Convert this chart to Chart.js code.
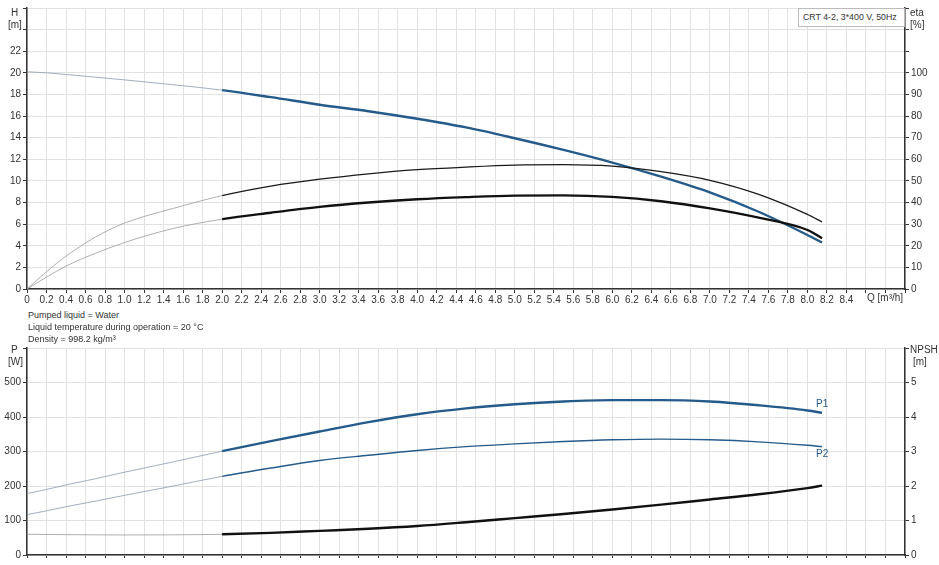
<!DOCTYPE html>
<html>
<head>
<meta charset="utf-8">
<script src="https://cdn.jsdelivr.net/npm/chart.js@4.4.1/dist/chart.umd.min.js"></script>
<style>
  body { margin: 0; background: #fff; font-family: "Liberation Sans", Arial, sans-serif; color: #333; }
  #wrap { position: relative; width: 939px; height: 565px; overflow: hidden; }
  canvas { position: absolute; left: 0; }
  .lbl { position: absolute; font-size: 10px; line-height: 12px; color: #333; white-space: nowrap; }
  .info { position: absolute; left: 28px; font-size: 9px; line-height: 12px; color: #333; white-space: nowrap; }
  #box { position: absolute; left: 798px; top: 8px; width: 107px; height: 19px; border: 1px solid #bbb;
         background: #fff; font-size: 8.8px; line-height: 17px; padding-left: 4px; box-sizing: border-box;
         color: #333; white-space: nowrap; }
</style>
</head>
<body>
<div id="wrap">
  <canvas id="top" width="939" height="305" style="top:0"></canvas>
  <canvas id="bottom" width="939" height="225" style="top:340px"></canvas>

  <div class="lbl" style="left:11px;top:7px">H</div>
  <div class="lbl" style="left:8px;top:19px">[m]</div>
  <div class="lbl" style="left:910px;top:7px">eta</div>
  <div class="lbl" style="left:910px;top:19px">[%]</div>
  <div class="lbl" style="left:867px;top:292px">Q [m³/h]</div>
  <div id="box">CRT 4-2, 3*400 V, 50Hz</div>

  <div class="info" style="top:309px">Pumped liquid = Water</div>
  <div class="info" style="top:321px">Liquid temperature during operation = 20 °C</div>
  <div class="info" style="top:333px">Density = 998.2 kg/m³</div>

  <div class="lbl" style="left:11px;top:344px">P</div>
  <div class="lbl" style="left:8px;top:356px">[W]</div>
  <div class="lbl" style="left:910px;top:344px">NPSH</div>
  <div class="lbl" style="left:913px;top:356px">[m]</div>
</div>
<script>
// flow Q [m3/h]
const flow = [0, 0.2, 0.4, 0.7, 1.0, 1.5, 2.0, 2.5, 3.0, 3.5, 4.0, 4.5, 5.0, 5.5, 6.0, 6.5, 7.0, 7.5, 8.0, 8.15];
// head H [m]
const head = [20.1, 20.0, 19.85, 19.6, 19.35, 18.9, 18.4, 17.75, 17.05, 16.45, 15.75, 14.95, 13.95, 12.87, 11.7, 10.4, 8.95, 7.15, 5.0, 4.3];
// efficiencies [%]
const etaPump = [0, 8, 15.2, 24, 30.5, 37.3, 43.2, 47.6, 50.8, 53.3, 55.2, 56.4, 57.3, 57.5, 56.8, 54.3, 50.3, 43.8, 34.5, 31];
const etaTotal = [0, 5.5, 10.6, 16.5, 21.5, 28, 32.3, 35.3, 38.0, 40.0, 41.5, 42.5, 43.2, 43.3, 42.6, 40.6, 37.3, 33.0, 27.3, 23.5];
// power [W]
const powerP1 = [178, 190, 203, 221, 240, 270, 301, 330, 358, 385, 408, 425, 437, 445, 449, 449, 445, 434, 419, 412];
const powerP2 = [117, 128, 140, 156, 173, 200, 228, 252, 274, 289, 303, 314, 322, 329, 334, 336, 334, 328, 318, 314];
// NPSH [m]
const npsh = [0.60, 0.595, 0.59, 0.585, 0.58, 0.585, 0.60, 0.64, 0.70, 0.76, 0.84, 0.95, 1.07, 1.19, 1.32, 1.46, 1.61, 1.76, 1.94, 2.01];

const hTicks = [0, 2, 4, 6, 8, 10, 12, 14, 16, 18, 20, 22];
const etaTicks = [0, 10, 20, 30, 40, 50, 60, 70, 80, 90, 100];
const pTicks = [0, 100, 200, 300, 400, 500];
const npshTicks = [0, 1, 2, 3, 4, 5];

const FONT = { family: '"Liberation Sans", Arial, sans-serif', size: 10 };
const GRID = '#e2e2e2';
const AXIS = '#333';
const BLUE = '#255b8b';
const opStart = 2.0; // start of the drawn operating range

function pts(ys) { return flow.map((q, i) => ({ x: q, y: ys[i] })); }

function curve(ys, axis, color, width, thinColor) {
  return {
    data: pts(ys), yAxisID: axis, borderColor: color, borderWidth: width,
    pointRadius: 0, fill: false, cubicInterpolationMode: 'monotone',
    segment: {
      borderWidth: c => c.p1.parsed.x <= opStart + 1e-6 ? 0.8 : width,
      borderColor: c => c.p1.parsed.x <= opStart + 1e-6 ? thinColor : color
    }
  };
}

function xAxis(showLabels, h) {
  return {
    type: 'linear', min: 0, max: 9,
    ticks: {
      stepSize: 0.2, autoSkip: false, maxRotation: 0, font: FONT, color: AXIS, padding: 1,
      callback: v => (!showLabels || v > 8.41) ? '' : (Math.abs(v) < 1e-9 ? '0' : v.toFixed(1))
    },
    grid: { color: GRID, tickColor: AXIS, tickLength: showLabels ? 4 : 3, drawOnChartArea: true },
    border: { color: AXIS, width: 1.5 },
    afterFit: s => { s.height = h; }
  };
}

function yAxis(pos, max, step, shown, grid, w) {
  return {
    type: 'linear', position: pos, min: 0, max: max,
    ticks: {
      stepSize: step, autoSkip: false, font: FONT, color: AXIS, padding: 2,
      callback: v => shown.includes(Math.round(v * 1000) / 1000) ? String(v) : ''
    },
    grid: { display: true, drawOnChartArea: grid, color: GRID, tickColor: AXIS, tickLength: 4 },
    border: { color: AXIS, width: 1.5 },
    afterFit: s => { s.width = w; }
  };
}

const endLabels = {
  id: 'endLabels',
  afterDatasetsDraw(chart, args, opts) {
    if (!opts.items) return;
    const ctx = chart.ctx;
    ctx.save();
    ctx.font = '10px "Liberation Sans", Arial, sans-serif';
    ctx.fillStyle = BLUE;
    opts.items.forEach(it => {
      const meta = chart.getDatasetMeta(it.ds);
      const p = meta.data[meta.data.length - 1];
      ctx.fillText(it.text, p.x - 6, p.y + it.dy);
    });
    ctx.restore();
  }
};

Chart.defaults.animation = false;
Chart.defaults.responsive = false;
Chart.defaults.font.family = FONT.family;

new Chart(document.getElementById('top'), {
  type: 'line',
  data: {
    datasets: [
      curve(etaPump, 'eta', '#1a1a1a', 1.3, '#9a9a9a'),
      curve(etaTotal, 'eta', '#111', 2.4, '#9a9a9a'),
      curve(head, 'h', BLUE, 2.4, '#8a9bb0')
    ]
  },
  options: {
    layout: { padding: { top: 8, left: 0, right: 0, bottom: 0 } },
    plugins: { legend: { display: false }, tooltip: { enabled: false } },
    scales: {
      x: xAxis(true, 16),
      h: yAxis('left', 26, 2, hTicks, true, 27),
      eta: yAxis('right', 130, 10, etaTicks, false, 34)
    }
  }
});

new Chart(document.getElementById('bottom'), {
  type: 'line',
  data: {
    datasets: [
      curve(powerP1, 'p', BLUE, 2.4, '#8a9bb0'),
      curve(powerP2, 'p', BLUE, 1.4, '#8a9bb0'),
      curve(npsh, 'n', '#111', 2.4, '#9a9a9a')
    ]
  },
  options: {
    layout: { padding: { top: 5, left: 0, right: 0, bottom: 0 } },
    plugins: {
      legend: { display: false }, tooltip: { enabled: false },
      endLabels: { items: [{ ds: 0, text: 'P1', dy: -6 }, { ds: 1, text: 'P2', dy: 10 }] }
    },
    scales: {
      x: xAxis(false, 10),
      p: yAxis('left', 600, 100, pTicks, true, 27),
      n: yAxis('right', 6, 1, npshTicks, false, 34)
    }
  },
  plugins: [endLabels]
});
</script>
</body>
</html>
